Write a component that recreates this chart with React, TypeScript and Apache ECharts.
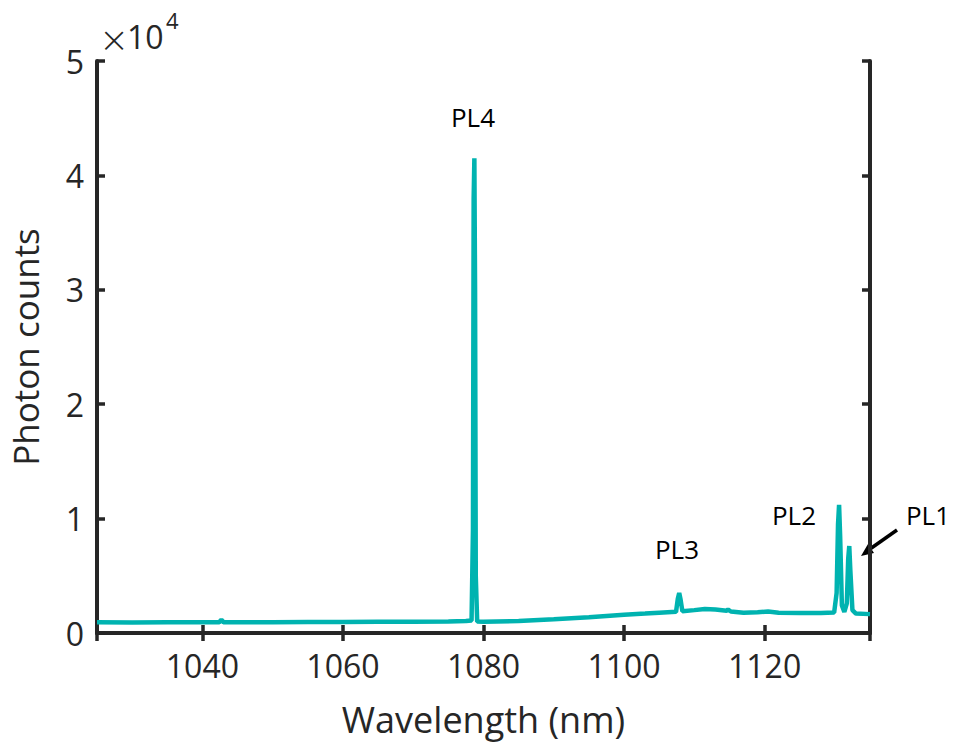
import React, { useEffect, useRef } from "react";
import * as echarts from "echarts";

// Spectrum samples: wavelength (nm) and photon counts
const wavelengths = [
  1025, 1030, 1035, 1040, 1042.4, 1042.7, 1043.0, 1045, 1050, 1055, 1060, 1065, 1070, 1075,
  1077.5, 1078.3, 1078.5, 1078.6, 1078.7, 1078.8, 1078.9, 1079.1, 1080, 1085, 1090, 1095,
  1100, 1103, 1105, 1107.4, 1107.65, 1107.85, 1108.05, 1108.3, 1110, 1111.5, 1113, 1114.6,
  1114.8, 1115.2, 1117, 1119, 1120.5, 1122, 1125, 1128, 1129.9, 1130.25, 1130.45, 1130.6,
  1130.75, 1131.0, 1131.35, 1131.7, 1131.9, 1132.05, 1132.2, 1132.5, 1133, 1135,
];
const counts = [
  930, 920, 940, 930, 950, 1150, 950, 940, 950, 960, 960, 980, 990, 1010,
  1040, 1100, 9000, 38000, 41500, 30000, 5000, 1000, 980, 1050, 1200, 1380,
  1600, 1700, 1780, 1850, 3000, 3500, 2900, 1900, 2000, 2100, 2050, 1950,
  2050, 1880, 1780, 1820, 1870, 1780, 1750, 1750, 1800, 3500, 9500, 11200,
  8500, 2400, 1850, 2600, 6500, 7600, 5500, 2000, 1700, 1650,
];
const yTickLabels = ["0", "1", "2", "3", "4", "5"];
const peakLabels = ["PL4", "PL3", "PL2", "PL1"];

const FONT = "'Open Sans', sans-serif";
const TXT = "#262626";
const LINE = "#00B3B0";

export default function App() {
  const ref = useRef<HTMLDivElement>(null);
  useEffect(() => {
    document.body.style.margin = "0";
    const chart = echarts.init(ref.current!, null, { renderer: "svg" });
    const data = wavelengths.map((w, i) => [w, counts[i]]);
    const axisLine = { show: true, lineStyle: { color: TXT, width: 4 } };
    const axisTick = { show: true, inside: true, length: 8, lineStyle: { color: TXT, width: 3.5 } };
    chart.setOption({
      animation: false,
      backgroundColor: "#ffffff",
      grid: { left: 97, right: 83, top: 61, bottom: 108, containLabel: false },
      xAxis: [
        {
          type: "value",
          min: 1025,
          max: 1135,
          splitNumber: 5,
          position: "bottom",
          axisLine,
          axisTick,
          splitLine: { show: false },
          axisLabel: {
            color: TXT,
            fontSize: 32,
            fontFamily: FONT,
            margin: 16,
            formatter: (v: number) => (v % 20 === 0 ? String(v) : ""),
          },
          name: "Wavelength (nm)",
          nameLocation: "middle",
          nameGap: 68,
          nameTextStyle: { color: TXT, fontSize: 36, fontFamily: FONT },
        },
        {
          type: "value",
          min: 1025,
          max: 1135,
          splitNumber: 5,
          position: "top",
          axisLine,
          axisTick,
          splitLine: { show: false },
          axisLabel: { show: false },
        },
      ],
      yAxis: [
        {
          type: "value",
          min: 0,
          max: 50000,
          interval: 10000,
          position: "left",
          axisLine,
          axisTick,
          splitLine: { show: false },
          axisLabel: {
            color: TXT,
            fontSize: 32,
            fontFamily: FONT,
            margin: 13,
            formatter: (v: number) => yTickLabels[Math.round(v / 10000)] ?? "",
          },
          name: "Photon counts",
          nameLocation: "middle",
          nameGap: 54,
          nameTextStyle: { color: TXT, fontSize: 35, fontFamily: FONT },
        },
        {
          type: "value",
          min: 0,
          max: 50000,
          interval: 10000,
          position: "right",
          axisLine,
          axisTick,
          splitLine: { show: false },
          axisLabel: { show: false },
        },
      ],
      series: [
        {
          type: "line",
          data,
          showSymbol: false,
          symbol: "none",
          lineStyle: { color: LINE, width: 4.5 },
          z: 1,
        },
      ],
      graphic: [
        { type: "text", x: 99, y: 39, style: { text: "×", fill: TXT, fontSize: 36, fontWeight: 300, fontFamily: "'DejaVu Sans', sans-serif", verticalAlign: "middle", align: "left" } },
        { type: "text", x: 127, y: 36, style: { text: "10", fill: TXT, fontSize: 32, fontFamily: FONT, verticalAlign: "middle", align: "left" } },
        { type: "text", x: 166, y: 20, style: { text: "4", fill: TXT, fontSize: 22, fontFamily: FONT, verticalAlign: "middle", align: "left" } },
        { type: "text", x: 473, y: 117, style: { text: peakLabels[0], fill: "#000", fontSize: 26, fontFamily: FONT, align: "center", verticalAlign: "middle" } },
        { type: "text", x: 677, y: 549, style: { text: peakLabels[1], fill: "#000", fontSize: 26, fontFamily: FONT, align: "center", verticalAlign: "middle" } },
        { type: "text", x: 794, y: 515, style: { text: peakLabels[2], fill: "#000", fontSize: 26, fontFamily: FONT, align: "center", verticalAlign: "middle" } },
        { type: "text", x: 928, y: 515, style: { text: peakLabels[3], fill: "#000", fontSize: 26, fontFamily: FONT, align: "center", verticalAlign: "middle" } },
        { type: "line", shape: { x1: 897, y1: 530, x2: 870, y2: 549 }, style: { stroke: "#000", lineWidth: 3.5 } },
        { type: "polygon", shape: { points: [[861, 556], [874, 553], [868, 544]] }, style: { fill: "#000" } },
      ],
    });
    return () => chart.dispose();
  }, []);
  return <div ref={ref} style={{ width: 953, height: 742 }} />;
}
